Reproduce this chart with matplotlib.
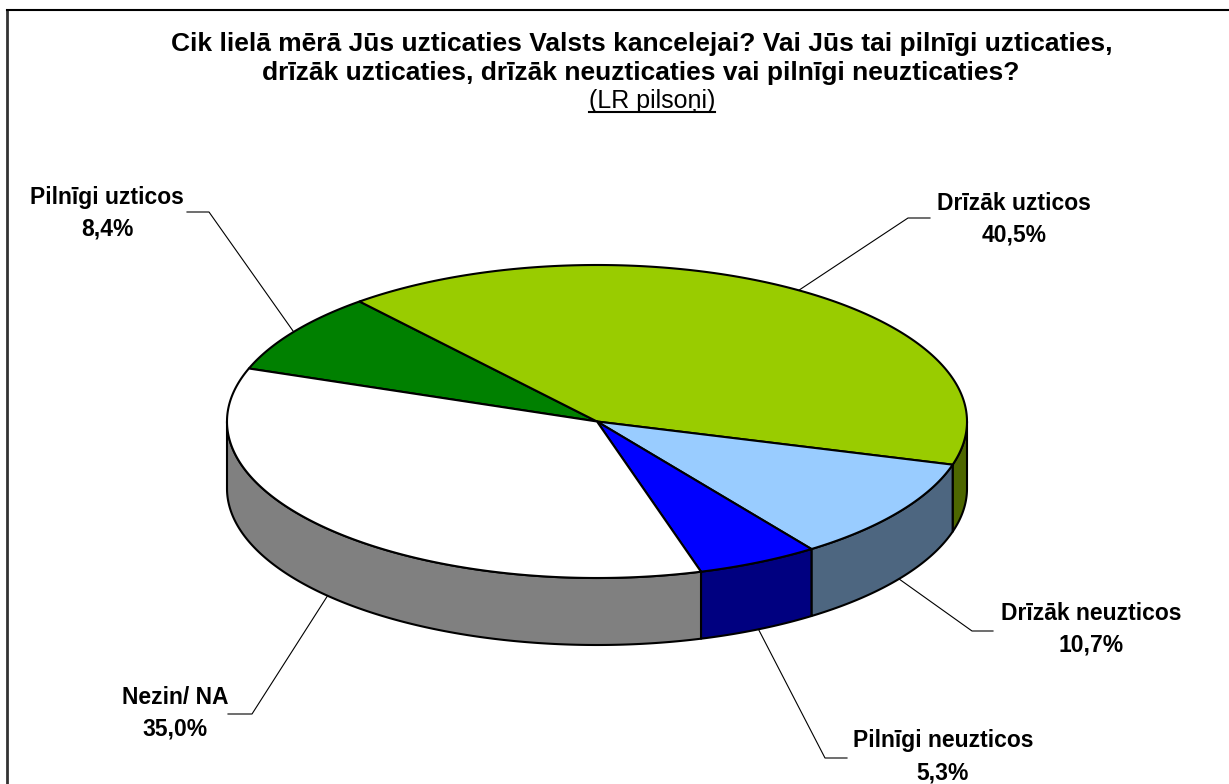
import numpy as np
import matplotlib
matplotlib.use('Agg')
import matplotlib.pyplot as plt
from matplotlib.patches import Polygon

# ---- data ----
labels = ['Pilnīgi uzticos', 'Drīzāk uzticos', 'Drīzāk neuzticos', 'Pilnīgi neuzticos', 'Nezin/ NA']
values = [8.4, 40.5, 10.7, 5.3, 35.0]
value_text = ['8,4%', '40,5%', '10,7%', '5,3%', '35,0%']
title_lines = ['Cik lielā mērā Jūs uzticaties Valsts kancelejai? Vai Jūs tai pilnīgi uzticaties,',
               'drīzāk uzticaties, drīzāk neuzticaties vai pilnīgi neuzticaties?']
subtitle = '(LR pilsoņi)'

# ---- styles / layout ----
top_colors = ['#008000', '#99CC00', '#99CCFF', '#0000FF', '#FFFFFF']
side_colors = ['#004000', '#4D6600', '#4D6680', '#000080', '#808080']
label_pos = [(107, 213), (1014, 219), (1091, 629), (943, 757), (175, 713)]
elbow = [((209, 212), (187, 212)), ((908, 218), (930, 218)), ((972, 631), (993, 631)),
         ((825, 758), (847, 758)), ((252, 714), (228, 714))]

W, H = 1229, 784
fig = plt.figure(figsize=(W / 100, H / 100), dpi=100)
ax = fig.add_axes([0, 0, 1, 1])
ax.set_xlim(0, W)
ax.set_ylim(H, 0)
ax.axis('off')

FONT = 'Liberation Sans'
cx, cy, rx, ry, depth = 597, 421.5, 370, 156.5, 67
start = 160.2
total = sum(values)
bounds = start - np.concatenate([[0], np.cumsum(values)]) / total * 360


def pt(t, dz=0.0):
    t = np.radians(t)
    return cx + rx * np.cos(t), cy - ry * np.sin(t) + dz


lw = 1.5
# sides
for i in range(len(values)):
    a0, a1 = bounds[i], bounds[i + 1]  # a0 > a1
    for k in (-360, 0, 360):
        lo = max(a1, -180 + k)
        hi = min(a0, 0 + k)
        if hi - lo > 1e-6:
            ts = np.linspace(lo, hi, 200)
            xs, ys = pt(ts)
            xb, yb = pt(ts[::-1], depth)
            poly = np.column_stack([np.concatenate([xs, xb]), np.concatenate([ys, yb])])
            ax.add_patch(Polygon(poly, closed=True, facecolor=side_colors[i],
                                 edgecolor='black', lw=lw, joinstyle='round', zorder=2))
# tops
for i in range(len(values)):
    a0, a1 = bounds[i], bounds[i + 1]
    ts = np.linspace(a0, a1, 300)
    xs, ys = pt(ts)
    poly = np.column_stack([np.concatenate([[cx], xs]), np.concatenate([[cy], ys])])
    ax.add_patch(Polygon(poly, closed=True, facecolor=top_colors[i],
                         edgecolor='black', lw=lw, joinstyle='round', zorder=3))

# leader lines and labels
LFS = 16.5
for i in range(len(values)):
    mid = (bounds[i] + bounds[i + 1]) / 2
    ax_, ay_ = pt(mid, depth if np.sin(np.radians(mid)) < 0 else 0)
    (ex, ey), (hx, hy) = elbow[i]
    ax.plot([ax_, ex, hx], [ay_, ey, hy], color='black', lw=0.8, zorder=4)
    lx, ly = label_pos[i]
    ax.text(lx, ly - 16, labels[i], ha='center', va='center', fontsize=LFS,
            fontweight='bold', family=FONT, zorder=5)
    ax.text(lx, ly + 16, value_text[i], ha='center', va='center', fontsize=LFS,
            fontweight='bold', family=FONT, zorder=5)

# title
TFS = 19
ax.text(642, 44, title_lines[0], ha='center', va='center', fontsize=TFS,
        fontweight='bold', family=FONT)
ax.text(641, 73, title_lines[1], ha='center', va='center', fontsize=TFS,
        fontweight='bold', family=FONT)
st = ax.text(652, 101, subtitle, ha='center', va='center', fontsize=18, family=FONT)
fig.canvas.draw()
bb = st.get_window_extent(renderer=fig.canvas.get_renderer())
inv = ax.transData.inverted()
(x0, y0), (x1, y1) = inv.transform([(bb.x0, bb.y0), (bb.x1, bb.y0)])
ax.plot([x0, x1], [y0 - 1, y0 - 1], color='black', lw=1.5)

# frame
ax.plot([7, 7], [10, H], color='#333333', lw=2, clip_on=False)
ax.plot([7, W], [10, 10], color='black', lw=1.5, clip_on=False)

fig.savefig('out.png', dpi=100)
